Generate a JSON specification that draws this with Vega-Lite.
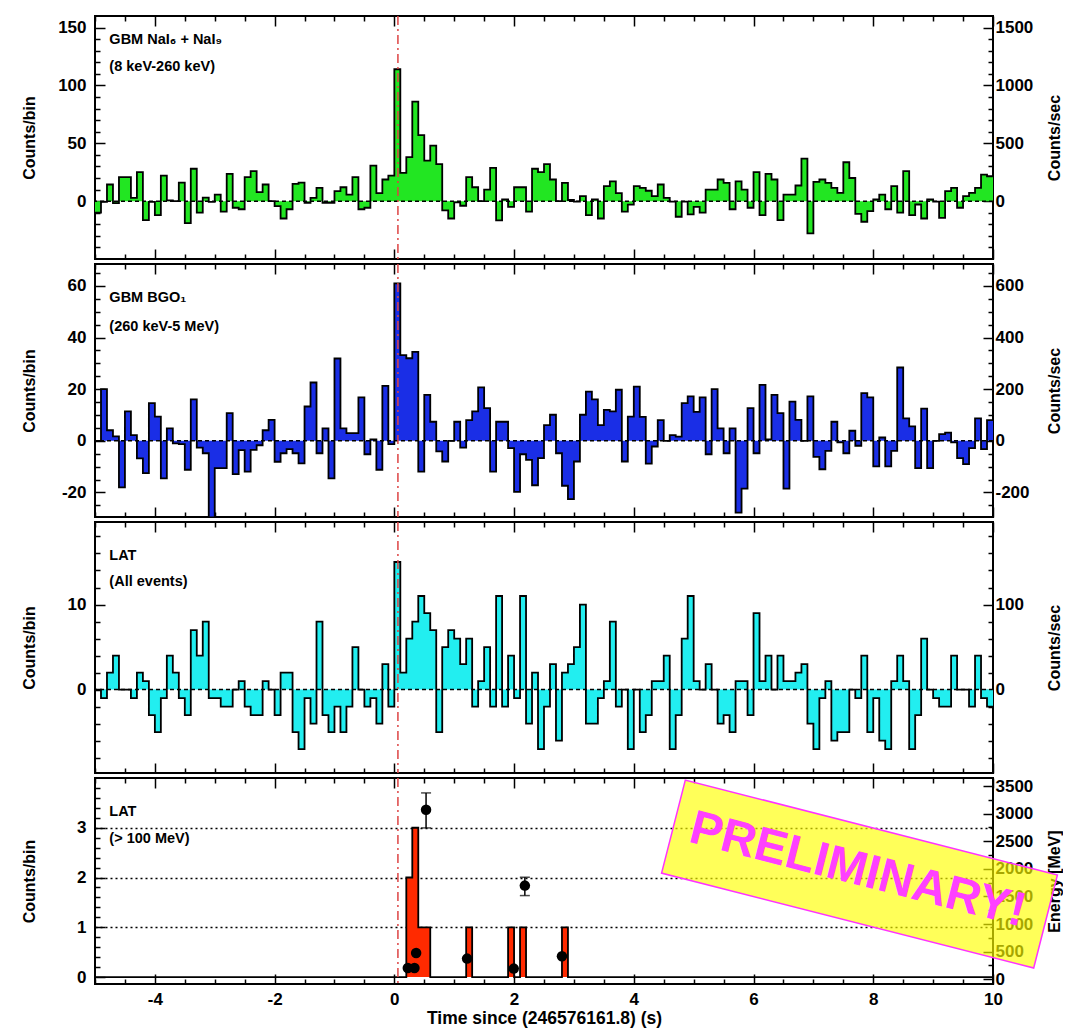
{
"$schema": "https://vega.github.io/schema/vega-lite/v6.json",
"background": "white",
"padding": {"left": 20, "top": 14, "right": 0, "bottom": 0},
"bounds": "flush",
"spacing": 5,
"config": {
  "view": {"stroke": "black", "strokeWidth": 2},
  "font": "Liberation Sans",
  "axis": {"labelFont": "Liberation Sans", "labelFontWeight": "bold", "labelFontSize": 17, "labelColor": "black",
           "titleFont": "Liberation Sans", "titleFontWeight": "bold", "titleFontSize": 16, "titleColor": "black",
           "domain": false, "grid": false, "tickColor": "black", "tickWidth": 1.5, "labelFlush": false, "labelOverlap": false}
},
"datasets": {
"hist": [
{"t":-5.0,"nai":-10,"bgo":0,"lat":0,"hi":0},
{"t":-4.9,"nai":-0.6,"bgo":20,"lat":-1,"hi":0},
{"t":-4.8,"nai":14.4,"bgo":4.1,"lat":2,"hi":0},
{"t":-4.7,"nai":-1.7,"bgo":1.7,"lat":4,"hi":0},
{"t":-4.6,"nai":20.7,"bgo":-18,"lat":0,"hi":0},
{"t":-4.5,"nai":20.7,"bgo":11.4,"lat":0,"hi":0},
{"t":-4.4,"nai":2.9,"bgo":2.2,"lat":-1,"hi":0},
{"t":-4.3,"nai":25,"bgo":-6.8,"lat":2,"hi":0},
{"t":-4.2,"nai":-16.4,"bgo":-12.5,"lat":1,"hi":0},
{"t":-4.1,"nai":-0.6,"bgo":14.6,"lat":-3,"hi":0},
{"t":-4.0,"nai":-12,"bgo":9.4,"lat":-5,"hi":0},
{"t":-3.9,"nai":22,"bgo":-14.5,"lat":-1,"hi":0},
{"t":-3.8,"nai":0.6,"bgo":4.8,"lat":4,"hi":0},
{"t":-3.7,"nai":0,"bgo":-1,"lat":2,"hi":0},
{"t":-3.6,"nai":16,"bgo":-1.3,"lat":-1,"hi":0},
{"t":-3.5,"nai":-19,"bgo":-11.2,"lat":-3,"hi":0},
{"t":-3.4,"nai":28,"bgo":16.1,"lat":7,"hi":0},
{"t":-3.3,"nai":-10,"bgo":-2.6,"lat":4,"hi":0},
{"t":-3.2,"nai":3,"bgo":-4.8,"lat":8,"hi":0},
{"t":-3.1,"nai":-0.6,"bgo":-29.7,"lat":-1,"hi":0},
{"t":-3.0,"nai":5.7,"bgo":-10.6,"lat":-1,"hi":0},
{"t":-2.9,"nai":-9,"bgo":-10.6,"lat":-2,"hi":0},
{"t":-2.8,"nai":23.6,"bgo":10.7,"lat":-2,"hi":0},
{"t":-2.7,"nai":-5.7,"bgo":-12.9,"lat":0,"hi":0},
{"t":-2.6,"nai":-7,"bgo":-3.6,"lat":1,"hi":0},
{"t":-2.5,"nai":20.7,"bgo":-11.9,"lat":-2,"hi":0},
{"t":-2.4,"nai":26,"bgo":-3.5,"lat":-3,"hi":0},
{"t":-2.3,"nai":7.8,"bgo":-1.7,"lat":-3,"hi":0},
{"t":-2.2,"nai":14.4,"bgo":4.1,"lat":1,"hi":0},
{"t":-2.1,"nai":0,"bgo":8.1,"lat":0,"hi":0},
{"t":-2.0,"nai":-4.3,"bgo":-8.1,"lat":-3,"hi":0},
{"t":-1.9,"nai":-15,"bgo":-4.8,"lat":2,"hi":0},
{"t":-1.8,"nai":-7,"bgo":-3.2,"lat":2,"hi":0},
{"t":-1.7,"nai":15,"bgo":-4.8,"lat":-5,"hi":0},
{"t":-1.6,"nai":16,"bgo":-8.7,"lat":-7,"hi":0},
{"t":-1.5,"nai":-1.4,"bgo":13.3,"lat":-1,"hi":0},
{"t":-1.4,"nai":2.9,"bgo":22.6,"lat":-4,"hi":0},
{"t":-1.3,"nai":11.5,"bgo":-4.8,"lat":8,"hi":0},
{"t":-1.2,"nai":-1.4,"bgo":4.8,"lat":-3,"hi":0},
{"t":-1.1,"nai":-1.4,"bgo":-14.5,"lat":-5,"hi":0},
{"t":-1.0,"nai":8.6,"bgo":31.9,"lat":-2,"hi":0},
{"t":-0.9,"nai":12,"bgo":4.8,"lat":-5,"hi":0},
{"t":-0.8,"nai":5.7,"bgo":3,"lat":-2,"hi":0},
{"t":-0.7,"nai":20.7,"bgo":3,"lat":5,"hi":0},
{"t":-0.6,"nai":-7,"bgo":16.8,"lat":0,"hi":0},
{"t":-0.5,"nai":-5.7,"bgo":-5.2,"lat":-2,"hi":0},
{"t":-0.4,"nai":30.7,"bgo":0.6,"lat":-1,"hi":0},
{"t":-0.3,"nai":7,"bgo":-11.2,"lat":-4,"hi":0},
{"t":-0.2,"nai":18.7,"bgo":21.3,"lat":3,"hi":0},
{"t":-0.1,"nai":22,"bgo":-1.3,"lat":-2,"hi":0},
{"t":0.0,"nai":114,"bgo":61,"lat":15,"hi":0},
{"t":0.1,"nai":24.4,"bgo":33.2,"lat":2,"hi":0},
{"t":0.2,"nai":38,"bgo":32,"lat":6,"hi":2},
{"t":0.3,"nai":86,"bgo":34.5,"lat":8,"hi":3},
{"t":0.4,"nai":57,"bgo":-11.9,"lat":11,"hi":1},
{"t":0.5,"nai":35,"bgo":17.8,"lat":9,"hi":1},
{"t":0.6,"nai":48,"bgo":7.4,"lat":7,"hi":0},
{"t":0.7,"nai":32,"bgo":-4.1,"lat":-5,"hi":0},
{"t":0.8,"nai":-8,"bgo":-8,"lat":5,"hi":0},
{"t":0.9,"nai":-15,"bgo":0,"lat":7,"hi":0},
{"t":1.0,"nai":-1,"bgo":7.4,"lat":6,"hi":0},
{"t":1.1,"nai":-4,"bgo":-2.6,"lat":3,"hi":0},
{"t":1.2,"nai":20.7,"bgo":8,"lat":6,"hi":1},
{"t":1.3,"nai":12,"bgo":11.4,"lat":-2,"hi":0},
{"t":1.4,"nai":0,"bgo":20.7,"lat":1,"hi":0},
{"t":1.5,"nai":10,"bgo":12.7,"lat":5,"hi":0},
{"t":1.6,"nai":28.7,"bgo":-11.9,"lat":-2,"hi":0},
{"t":1.7,"nai":-16.7,"bgo":7.4,"lat":11,"hi":0},
{"t":1.8,"nai":1.4,"bgo":7.4,"lat":-2,"hi":0},
{"t":1.9,"nai":-5,"bgo":-2.8,"lat":4,"hi":1},
{"t":2.0,"nai":12,"bgo":-19.8,"lat":-1,"hi":0},
{"t":2.1,"nai":12,"bgo":-5.2,"lat":11,"hi":1},
{"t":2.2,"nai":-9,"bgo":-7.4,"lat":-4,"hi":0},
{"t":2.3,"nai":28,"bgo":-17.2,"lat":2,"hi":0},
{"t":2.4,"nai":25,"bgo":-6.7,"lat":-7,"hi":0},
{"t":2.5,"nai":32,"bgo":6.1,"lat":-2,"hi":0},
{"t":2.6,"nai":18.7,"bgo":10.1,"lat":3,"hi":0},
{"t":2.7,"nai":0,"bgo":-4.8,"lat":-6,"hi":0},
{"t":2.8,"nai":15.8,"bgo":-17.4,"lat":2,"hi":1},
{"t":2.9,"nai":1,"bgo":-22.6,"lat":3,"hi":0},
{"t":3.0,"nai":-0.5,"bgo":-8,"lat":5,"hi":0},
{"t":3.1,"nai":4.3,"bgo":10.1,"lat":10,"hi":0},
{"t":3.2,"nai":-12,"bgo":19.1,"lat":-4,"hi":0},
{"t":3.3,"nai":1.4,"bgo":16.1,"lat":-4,"hi":0},
{"t":3.4,"nai":-15,"bgo":6.1,"lat":-1,"hi":0},
{"t":3.5,"nai":13,"bgo":12,"lat":1,"hi":0},
{"t":3.6,"nai":17,"bgo":11.4,"lat":8,"hi":0},
{"t":3.7,"nai":7,"bgo":19.8,"lat":-2,"hi":0},
{"t":3.8,"nai":-9,"bgo":-8,"lat":0,"hi":0},
{"t":3.9,"nai":-3,"bgo":9.4,"lat":-7,"hi":0},
{"t":4.0,"nai":13,"bgo":21,"lat":0,"hi":0},
{"t":4.1,"nai":11.5,"bgo":9.3,"lat":-5,"hi":0},
{"t":4.2,"nai":9,"bgo":-8.8,"lat":-3,"hi":0},
{"t":4.3,"nai":4.3,"bgo":-2.2,"lat":1,"hi":0},
{"t":4.4,"nai":14.4,"bgo":8,"lat":1,"hi":0},
{"t":4.5,"nai":2.9,"bgo":0,"lat":4,"hi":0},
{"t":4.6,"nai":-0.5,"bgo":2.2,"lat":-7,"hi":0},
{"t":4.7,"nai":-13.5,"bgo":1.6,"lat":-3,"hi":0},
{"t":4.8,"nai":-0.5,"bgo":14.6,"lat":6,"hi":0},
{"t":4.9,"nai":-11.5,"bgo":17.2,"lat":11,"hi":0},
{"t":5.0,"nai":-5,"bgo":11.2,"lat":1,"hi":0},
{"t":5.1,"nai":-10,"bgo":16.8,"lat":0,"hi":0},
{"t":5.2,"nai":10,"bgo":-5.2,"lat":3,"hi":0},
{"t":5.3,"nai":10,"bgo":20,"lat":0,"hi":0},
{"t":5.4,"nai":18.7,"bgo":4.8,"lat":-4,"hi":0},
{"t":5.5,"nai":15.8,"bgo":-4.8,"lat":-3,"hi":0},
{"t":5.6,"nai":-7,"bgo":4.8,"lat":-5,"hi":0},
{"t":5.7,"nai":17,"bgo":-27.8,"lat":1,"hi":0},
{"t":5.8,"nai":10,"bgo":-18.5,"lat":1,"hi":0},
{"t":5.9,"nai":-5.7,"bgo":12.7,"lat":-3,"hi":0},
{"t":6.0,"nai":25,"bgo":-4.8,"lat":9,"hi":0},
{"t":6.1,"nai":-12,"bgo":21.7,"lat":1,"hi":0},
{"t":6.2,"nai":23.6,"bgo":0.6,"lat":4,"hi":0},
{"t":6.3,"nai":18.7,"bgo":17.8,"lat":0,"hi":0},
{"t":6.4,"nai":-16.4,"bgo":10.7,"lat":4,"hi":0},
{"t":6.5,"nai":5.7,"bgo":-18.5,"lat":1,"hi":0},
{"t":6.6,"nai":5.7,"bgo":15.2,"lat":1,"hi":0},
{"t":6.7,"nai":13.5,"bgo":8.1,"lat":2,"hi":0},
{"t":6.8,"nai":36.8,"bgo":0,"lat":3,"hi":0},
{"t":6.9,"nai":-27.9,"bgo":17.2,"lat":-4,"hi":0},
{"t":7.0,"nai":16.7,"bgo":-6.2,"lat":-7,"hi":0},
{"t":7.1,"nai":18.7,"bgo":-11,"lat":-1,"hi":0},
{"t":7.2,"nai":15.8,"bgo":-3.9,"lat":1,"hi":0},
{"t":7.3,"nai":11.5,"bgo":7.4,"lat":-6,"hi":0},
{"t":7.4,"nai":7.2,"bgo":-0.6,"lat":-5,"hi":0},
{"t":7.5,"nai":33.6,"bgo":-4.8,"lat":-5,"hi":0},
{"t":7.6,"nai":20,"bgo":3.9,"lat":0,"hi":0},
{"t":7.7,"nai":-11,"bgo":-1.9,"lat":-1,"hi":0},
{"t":7.8,"nai":-17.8,"bgo":18.5,"lat":4,"hi":0},
{"t":7.9,"nai":-8.6,"bgo":16.8,"lat":-5,"hi":0},
{"t":8.0,"nai":1.4,"bgo":-9.9,"lat":-1,"hi":0},
{"t":8.1,"nai":5.7,"bgo":1.3,"lat":-6,"hi":0},
{"t":8.2,"nai":-7,"bgo":-9.9,"lat":-7,"hi":0},
{"t":8.3,"nai":13,"bgo":-3.9,"lat":1,"hi":0},
{"t":8.4,"nai":-10,"bgo":28.4,"lat":4,"hi":0},
{"t":8.5,"nai":26,"bgo":8.7,"lat":1,"hi":0},
{"t":8.6,"nai":-12,"bgo":5.6,"lat":-7,"hi":0},
{"t":8.7,"nai":-2.9,"bgo":-10.6,"lat":-3,"hi":0},
{"t":8.8,"nai":-15,"bgo":12.5,"lat":6,"hi":0},
{"t":8.9,"nai":1.4,"bgo":-10.6,"lat":0,"hi":0},
{"t":9.0,"nai":-0.5,"bgo":0,"lat":-1,"hi":0},
{"t":9.1,"nai":-14.4,"bgo":2.6,"lat":-2,"hi":0},
{"t":9.2,"nai":8.6,"bgo":3.2,"lat":-2,"hi":0},
{"t":9.3,"nai":11.5,"bgo":-0.6,"lat":4,"hi":0},
{"t":9.4,"nai":-5.7,"bgo":-6.7,"lat":0,"hi":0},
{"t":9.5,"nai":4.3,"bgo":-9,"lat":0,"hi":0},
{"t":9.6,"nai":7.2,"bgo":-2.8,"lat":-2,"hi":0},
{"t":9.7,"nai":11.5,"bgo":8.7,"lat":4,"hi":0},
{"t":9.8,"nai":23,"bgo":-3.2,"lat":-1,"hi":0},
{"t":9.9,"nai":21.5,"bgo":8,"lat":-2,"hi":0},
{"t":10.0,"nai":21.5,"bgo":8,"lat":-2,"hi":0}
],
"energy": [
{"t":0.225,"e":205},
{"t":0.336,"e":205},
{"t":0.364,"e":476},
{"t":0.53,"e":3070},
{"t":1.215,"e":375},
{"t":1.995,"e":194},
{"t":2.18,"e":1697},
{"t":2.8,"e":417}
],
"err": [
{"t":0.53,"lo":2741,"hi":3375},
{"t":2.18,"lo":1516,"hi":1848}
]
},
"vconcat": [
{
 "width": 898, "height": 243,
 "data": {"name": "hist"},
 "resolve": {"scale": {"y": "independent"}, "axis": {"x": "independent", "y": "independent"}},
 "layer": [
  {"mark": {"type": "area", "interpolate": "step-after", "color": "#22e622", "clip": true},
   "encoding": {
    "x": {"field": "t", "type": "quantitative", "scale": {"domain": [-5, 10], "nice": false},
          "axis": {"orient": "bottom", "values": [-5,-4.5,-4,-3.5,-3,-2.5,-2,-1.5,-1,-0.5,0,0.5,1,1.5,2,2.5,3,3.5,4,4.5,5,5.5,6,6.5,7,7.5,8,8.5,9,9.5,10], "labels": false, "title": null,
                   "tickSize": {"condition": {"test": "datum.value % 2 === 0", "value": -10}, "value": -5}}},
    "y": {"field": "nai", "type": "quantitative", "scale": {"domain": [-50, 160], "nice": false, "zero": false},
          "axis": {"orient": "left", "values": [-40,-30,-20,-10,0,10,20,30,40,50,60,70,80,90,100,110,120,130,140,150],
                   "labelExpr": "datum.value % 50 === 0 ? '' + datum.value : ''",
                   "tickSize": {"condition": {"test": "datum.value % 50 === 0", "value": -10}, "value": -5},
                   "labelPadding": 19, "title": "Counts/bin", "titleX": -61, "titleBaseline": "alphabetic"}},
    "y2": {"datum": 0}
   }},
  {"data": {"values": [{}]},
   "mark": {"type": "rule", "color": "black", "strokeDash": [4, 3], "strokeWidth": 1.5},
   "encoding": {
    "y": {"datum": 0, "type": "quantitative", "scale": {"domain": [-500, 1600], "nice": false, "zero": false},
          "axis": {"orient": "right", "values": [-400,-300,-200,-100,0,100,200,300,400,500,600,700,800,900,1000,1100,1200,1300,1400,1500],
                   "labelExpr": "datum.value % 500 === 0 ? '' + datum.value : ''",
                   "tickSize": {"condition": {"test": "datum.value % 500 === 0", "value": -10}, "value": -5},
                   "labelPadding": 12, "title": "Counts/sec", "titleAngle": 270, "titleX": 66, "titleBaseline": "alphabetic"}}
   }},
  {"mark": {"type": "line", "interpolate": "step-after", "color": "black", "strokeWidth": 1.8, "clip": true},
   "encoding": {
    "x": {"field": "t", "type": "quantitative", "scale": {"domain": [-5, 10], "nice": false},
          "axis": {"orient": "top", "values": [-5,-4.5,-4,-3.5,-3,-2.5,-2,-1.5,-1,-0.5,0,0.5,1,1.5,2,2.5,3,3.5,4,4.5,5,5.5,6,6.5,7,7.5,8,8.5,9,9.5,10], "labels": false, "title": null,
                   "tickSize": {"condition": {"test": "datum.value % 2 === 0", "value": -10}, "value": -5}}},
    "y": {"field": "nai", "type": "quantitative", "scale": {"domain": [-50, 160], "nice": false, "zero": false}, "axis": null}
   }},
  {"data": {"values": [{}]},
   "mark": {"type": "rule", "color": "#dd4444", "strokeDash": [9, 4, 2, 4], "strokeWidth": 1.5},
   "encoding": {"x": {"datum": 0.06, "type": "quantitative", "scale": {"domain": [-5, 10], "nice": false}, "axis": null}}},
  {"data": {"values": [{}]},
   "mark": {"type": "text", "text": "GBM NaI₆ + NaI₉", "align": "left", "baseline": "middle", "fontSize": 14.5, "fontWeight": "bold", "font": "Liberation Sans", "color": "black"},
   "encoding": {"x": {"datum": -4.76, "type": "quantitative", "scale": {"domain": [-5, 10], "nice": false}, "axis": null},
                "y": {"datum": 139, "type": "quantitative", "scale": {"domain": [-50, 160], "nice": false, "zero": false}, "axis": null}}},
  {"data": {"values": [{}]},
   "mark": {"type": "text", "text": "(8 keV-260 keV)", "align": "left", "baseline": "middle", "fontSize": 14.5, "fontWeight": "bold", "font": "Liberation Sans", "color": "black"},
   "encoding": {"x": {"datum": -4.76, "type": "quantitative", "scale": {"domain": [-5, 10], "nice": false}, "axis": null},
                "y": {"datum": 115.8, "type": "quantitative", "scale": {"domain": [-50, 160], "nice": false, "zero": false}, "axis": null}}}
 ]
},
{
 "width": 898, "height": 253,
 "data": {"name": "hist"},
 "resolve": {"scale": {"y": "independent"}, "axis": {"x": "independent", "y": "independent"}},
 "layer": [
  {"mark": {"type": "area", "interpolate": "step-after", "color": "#1a2ee6", "clip": true},
   "encoding": {
    "x": {"field": "t", "type": "quantitative", "scale": {"domain": [-5, 10], "nice": false},
          "axis": {"orient": "bottom", "values": [-5,-4.5,-4,-3.5,-3,-2.5,-2,-1.5,-1,-0.5,0,0.5,1,1.5,2,2.5,3,3.5,4,4.5,5,5.5,6,6.5,7,7.5,8,8.5,9,9.5,10], "labels": false, "title": null,
                   "tickSize": {"condition": {"test": "datum.value % 2 === 0", "value": -10}, "value": -5}}},
    "y": {"field": "bgo", "type": "quantitative", "scale": {"domain": [-29.5, 68.5], "nice": false, "zero": false},
          "axis": {"orient": "left", "values": [-25,-20,-15,-10,-5,0,5,10,15,20,25,30,35,40,45,50,55,60,65],
                   "labelExpr": "datum.value % 20 === 0 ? '' + datum.value : ''",
                   "tickSize": {"condition": {"test": "datum.value % 20 === 0", "value": -10}, "value": -5},
                   "labelPadding": 19, "title": "Counts/bin", "titleX": -61, "titleBaseline": "alphabetic"}},
    "y2": {"datum": 0}
   }},
  {"data": {"values": [{}]},
   "mark": {"type": "rule", "color": "black", "strokeDash": [4, 3], "strokeWidth": 1.5},
   "encoding": {
    "y": {"datum": 0, "type": "quantitative", "scale": {"domain": [-295, 685], "nice": false, "zero": false},
          "axis": {"orient": "right", "values": [-250,-200,-150,-100,-50,0,50,100,150,200,250,300,350,400,450,500,550,600,650],
                   "labelExpr": "datum.value % 200 === 0 ? '' + datum.value : ''",
                   "tickSize": {"condition": {"test": "datum.value % 200 === 0", "value": -10}, "value": -5},
                   "labelPadding": 12, "title": "Counts/sec", "titleAngle": 270, "titleX": 66, "titleBaseline": "alphabetic"}}
   }},
  {"mark": {"type": "line", "interpolate": "step-after", "color": "black", "strokeWidth": 1.8, "clip": true},
   "encoding": {
    "x": {"field": "t", "type": "quantitative", "scale": {"domain": [-5, 10], "nice": false},
          "axis": {"orient": "top", "values": [-5,-4.5,-4,-3.5,-3,-2.5,-2,-1.5,-1,-0.5,0,0.5,1,1.5,2,2.5,3,3.5,4,4.5,5,5.5,6,6.5,7,7.5,8,8.5,9,9.5,10], "labels": false, "title": null,
                   "tickSize": {"condition": {"test": "datum.value % 2 === 0", "value": -10}, "value": -5}}},
    "y": {"field": "bgo", "type": "quantitative", "scale": {"domain": [-29.5, 68.5], "nice": false, "zero": false}, "axis": null}
   }},
  {"data": {"values": [{}]},
   "mark": {"type": "rule", "color": "#dd4444", "strokeDash": [9, 4, 2, 4], "strokeWidth": 1.5},
   "encoding": {"x": {"datum": 0.06, "type": "quantitative", "scale": {"domain": [-5, 10], "nice": false}, "axis": null}}},
  {"data": {"values": [{}]},
   "mark": {"type": "text", "text": "GBM BGO₁", "align": "left", "baseline": "middle", "fontSize": 14.5, "fontWeight": "bold", "font": "Liberation Sans", "color": "black"},
   "encoding": {"x": {"datum": -4.76, "type": "quantitative", "scale": {"domain": [-5, 10], "nice": false}, "axis": null},
                "y": {"datum": 55.2, "type": "quantitative", "scale": {"domain": [-29.5, 68.5], "nice": false, "zero": false}, "axis": null}}},
  {"data": {"values": [{}]},
   "mark": {"type": "text", "text": "(260 keV-5 MeV)", "align": "left", "baseline": "middle", "fontSize": 14.5, "fontWeight": "bold", "font": "Liberation Sans", "color": "black"},
   "encoding": {"x": {"datum": -4.76, "type": "quantitative", "scale": {"domain": [-5, 10], "nice": false}, "axis": null},
                "y": {"datum": 44.2, "type": "quantitative", "scale": {"domain": [-29.5, 68.5], "nice": false, "zero": false}, "axis": null}}}
 ]
},
{
 "width": 898, "height": 251,
 "data": {"name": "hist"},
 "resolve": {"scale": {"y": "independent"}, "axis": {"x": "independent", "y": "independent"}},
 "layer": [
  {"mark": {"type": "area", "interpolate": "step-after", "color": "#22eef0", "clip": true},
   "encoding": {
    "x": {"field": "t", "type": "quantitative", "scale": {"domain": [-5, 10], "nice": false},
          "axis": {"orient": "bottom", "values": [-5,-4.5,-4,-3.5,-3,-2.5,-2,-1.5,-1,-0.5,0,0.5,1,1.5,2,2.5,3,3.5,4,4.5,5,5.5,6,6.5,7,7.5,8,8.5,9,9.5,10], "labels": false, "title": null,
                   "tickSize": {"condition": {"test": "datum.value % 2 === 0", "value": -10}, "value": -5}}},
    "y": {"field": "lat", "type": "quantitative", "scale": {"domain": [-9.8, 19.7], "nice": false, "zero": false},
          "axis": {"orient": "left", "values": [-8,-6,-4,-2,0,2,4,6,8,10,12,14,16,18],
                   "labelExpr": "datum.value % 10 === 0 ? '' + datum.value : ''",
                   "tickSize": {"condition": {"test": "datum.value % 10 === 0", "value": -10}, "value": -5},
                   "labelPadding": 19, "title": "Counts/bin", "titleX": -61, "titleBaseline": "alphabetic"}},
    "y2": {"datum": 0}
   }},
  {"data": {"values": [{}]},
   "mark": {"type": "rule", "color": "black", "strokeDash": [4, 3], "strokeWidth": 1.5},
   "encoding": {
    "y": {"datum": 0, "type": "quantitative", "scale": {"domain": [-98, 197], "nice": false, "zero": false},
          "axis": {"orient": "right", "values": [-80,-60,-40,-20,0,20,40,60,80,100,120,140,160,180],
                   "labelExpr": "datum.value % 100 === 0 ? '' + datum.value : ''",
                   "tickSize": {"condition": {"test": "datum.value % 100 === 0", "value": -10}, "value": -5},
                   "labelPadding": 12, "title": "Counts/sec", "titleAngle": 270, "titleX": 66, "titleBaseline": "alphabetic"}}
   }},
  {"mark": {"type": "line", "interpolate": "step-after", "color": "black", "strokeWidth": 1.8, "clip": true},
   "encoding": {
    "x": {"field": "t", "type": "quantitative", "scale": {"domain": [-5, 10], "nice": false},
          "axis": {"orient": "top", "values": [-5,-4.5,-4,-3.5,-3,-2.5,-2,-1.5,-1,-0.5,0,0.5,1,1.5,2,2.5,3,3.5,4,4.5,5,5.5,6,6.5,7,7.5,8,8.5,9,9.5,10], "labels": false, "title": null,
                   "tickSize": {"condition": {"test": "datum.value % 2 === 0", "value": -10}, "value": -5}}},
    "y": {"field": "lat", "type": "quantitative", "scale": {"domain": [-9.8, 19.7], "nice": false, "zero": false}, "axis": null}
   }},
  {"data": {"values": [{}]},
   "mark": {"type": "rule", "color": "#dd4444", "strokeDash": [9, 4, 2, 4], "strokeWidth": 1.5},
   "encoding": {"x": {"datum": 0.06, "type": "quantitative", "scale": {"domain": [-5, 10], "nice": false}, "axis": null}}},
  {"data": {"values": [{}]},
   "mark": {"type": "text", "text": "LAT", "align": "left", "baseline": "middle", "fontSize": 14.5, "fontWeight": "bold", "font": "Liberation Sans", "color": "black"},
   "encoding": {"x": {"datum": -4.76, "type": "quantitative", "scale": {"domain": [-5, 10], "nice": false}, "axis": null},
                "y": {"datum": 15.7, "type": "quantitative", "scale": {"domain": [-9.8, 19.7], "nice": false, "zero": false}, "axis": null}}},
  {"data": {"values": [{}]},
   "mark": {"type": "text", "text": "(All events)", "align": "left", "baseline": "middle", "fontSize": 14.5, "fontWeight": "bold", "font": "Liberation Sans", "color": "black"},
   "encoding": {"x": {"datum": -4.76, "type": "quantitative", "scale": {"domain": [-5, 10], "nice": false}, "axis": null},
                "y": {"datum": 12.7, "type": "quantitative", "scale": {"domain": [-9.8, 19.7], "nice": false, "zero": false}, "axis": null}}}
 ]
},
{
 "width": 898, "height": 206,
 "data": {"name": "hist"},
 "resolve": {"scale": {"y": "independent"}, "axis": {"x": "independent", "y": "independent"}},
 "layer": [
  {"mark": {"type": "area", "interpolate": "step-after", "color": "#ff2a00", "clip": true},
   "encoding": {
    "x": {"field": "t", "type": "quantitative", "scale": {"domain": [-5, 10], "nice": false},
          "axis": {"orient": "bottom", "values": [-5,-4.5,-4,-3.5,-3,-2.5,-2,-1.5,-1,-0.5,0,0.5,1,1.5,2,2.5,3,3.5,4,4.5,5,5.5,6,6.5,7,7.5,8,8.5,9,9.5,10],
                   "labelExpr": "datum.value % 2 === 0 ? '' + datum.value : ''",
                   "tickSize": {"condition": {"test": "datum.value % 2 === 0", "value": -10}, "value": -5},
                   "labelPadding": 17, "title": "Time since (246576161.8) (s)", "titleFontSize": 17.5, "titleY": 39, "titleBaseline": "alphabetic"}},
    "y": {"field": "hi", "type": "quantitative", "scale": {"domain": [-0.14, 4.0], "nice": false, "zero": false},
          "axis": {"orient": "left", "values": [0,0.2,0.4,0.6,0.8,1,1.2,1.4,1.6,1.8,2,2.2,2.4,2.6,2.8,3,3.2,3.4,3.6,3.8],
                   "labelExpr": "abs(datum.value - round(datum.value)) < 0.001 ? '' + datum.value : ''",
                   "tickSize": {"condition": {"test": "abs(datum.value - round(datum.value)) < 0.001", "value": -10}, "value": -5},
                   "grid": true, "gridColor": "black", "gridDash": [2, 3], "gridWidth": 1.3,
                   "gridOpacity": {"condition": {"test": "datum.value > 0.5 && abs(datum.value - round(datum.value)) < 0.001", "value": 1}, "value": 0},
                   "labelPadding": 19, "title": "Counts/bin", "titleX": -61, "titleBaseline": "alphabetic"}},
    "y2": {"datum": 0}
   }},
  {"mark": {"type": "line", "interpolate": "step-after", "color": "black", "strokeWidth": 1.8, "clip": true},
   "encoding": {
    "x": {"field": "t", "type": "quantitative", "scale": {"domain": [-5, 10], "nice": false},
          "axis": {"orient": "top", "values": [-5,-4.5,-4,-3.5,-3,-2.5,-2,-1.5,-1,-0.5,0,0.5,1,1.5,2,2.5,3,3.5,4,4.5,5,5.5,6,6.5,7,7.5,8,8.5,9,9.5,10], "labels": false, "title": null,
                   "tickSize": {"condition": {"test": "datum.value % 2 === 0", "value": -10}, "value": -5}}},
    "y": {"field": "hi", "type": "quantitative", "scale": {"domain": [-0.14, 4.0], "nice": false, "zero": false}, "axis": null}
   }},
  {"data": {"values": [{}]},
   "mark": {"type": "rule", "color": "#dd4444", "strokeDash": [9, 4, 2, 4], "strokeWidth": 1.5},
   "encoding": {"x": {"datum": 0.06, "type": "quantitative", "scale": {"domain": [-5, 10], "nice": false}, "axis": null}}},
  {"data": {"values": [{}]},
   "mark": {"type": "text", "text": "LAT", "align": "left", "baseline": "middle", "fontSize": 14.5, "fontWeight": "bold", "font": "Liberation Sans", "color": "black"},
   "encoding": {"x": {"datum": -4.76, "type": "quantitative", "scale": {"domain": [-5, 10], "nice": false}, "axis": null},
                "y": {"datum": 3.31, "type": "quantitative", "scale": {"domain": [-0.14, 4.0], "nice": false, "zero": false}, "axis": null}}},
  {"data": {"values": [{}]},
   "mark": {"type": "text", "text": "(> 100 MeV)", "align": "left", "baseline": "middle", "fontSize": 14.5, "fontWeight": "bold", "font": "Liberation Sans", "color": "black"},
   "encoding": {"x": {"datum": -4.76, "type": "quantitative", "scale": {"domain": [-5, 10], "nice": false}, "axis": null},
                "y": {"datum": 2.78, "type": "quantitative", "scale": {"domain": [-0.14, 4.0], "nice": false, "zero": false}, "axis": null}}},
  {"data": {"name": "err"},
   "mark": {"type": "errorbar", "ticks": {"size": 10, "color": "black", "thickness": 1.5}, "rule": {"color": "black", "strokeWidth": 1.5}},
   "encoding": {"x": {"field": "t", "type": "quantitative", "scale": {"domain": [-5, 10], "nice": false}, "axis": null},
                "y": {"field": "lo", "type": "quantitative", "scale": {"domain": [-85, 3645], "nice": false, "zero": false}, "axis": null},
                "y2": {"field": "hi"}}},
  {"data": {"name": "energy"},
   "mark": {"type": "point", "filled": true, "shape": "circle", "size": 110, "color": "black", "opacity": 1},
   "encoding": {"x": {"field": "t", "type": "quantitative", "scale": {"domain": [-5, 10], "nice": false}, "axis": null},
                "y": {"field": "e", "type": "quantitative", "scale": {"domain": [-85, 3645], "nice": false, "zero": false},
                      "axis": {"orient": "right", "values": [0,250,500,750,1000,1250,1500,1750,2000,2250,2500,2750,3000,3250,3500],
                               "labelExpr": "datum.value % 500 === 0 ? '' + datum.value : ''",
                               "tickSize": {"condition": {"test": "datum.value % 500 === 0", "value": -10}, "value": -5},
                               "labelPadding": 12, "title": "Energy [MeV]", "titleAngle": 270, "titleX": 66, "titleBaseline": "alphabetic"}}}},
  {"data": {"values": [{}]},
   "mark": {"type": "point", "shape": "M-1,-0.25L1,-0.25L1,0.25L-1,0.25Z", "size": 147456, "angle": 14.3, "filled": true, "fill": "#ffff00", "fillOpacity": 0.65, "stroke": "#ff33ff", "strokeWidth": 1.5, "opacity": 1, "clip": false},
   "encoding": {"x": {"datum": 7.77, "type": "quantitative", "scale": {"domain": [-5, 10], "nice": false}, "axis": null},
                "y": {"datum": 2.07, "type": "quantitative", "scale": {"domain": [-0.14, 4.0], "nice": false, "zero": false}, "axis": null}}},
  {"data": {"values": [{}]},
   "mark": {"type": "text", "text": "PRELIMINARY!", "angle": 14.3, "font": "Liberation Sans", "fontWeight": "bold", "fontSize": 48, "color": "#ff40ff", "align": "center", "baseline": "middle", "clip": false},
   "encoding": {"x": {"datum": 7.74, "type": "quantitative", "scale": {"domain": [-5, 10], "nice": false}, "axis": null},
                "y": {"datum": 2.14, "type": "quantitative", "scale": {"domain": [-0.14, 4.0], "nice": false, "zero": false}, "axis": null}}}
 ]
}
]
}
